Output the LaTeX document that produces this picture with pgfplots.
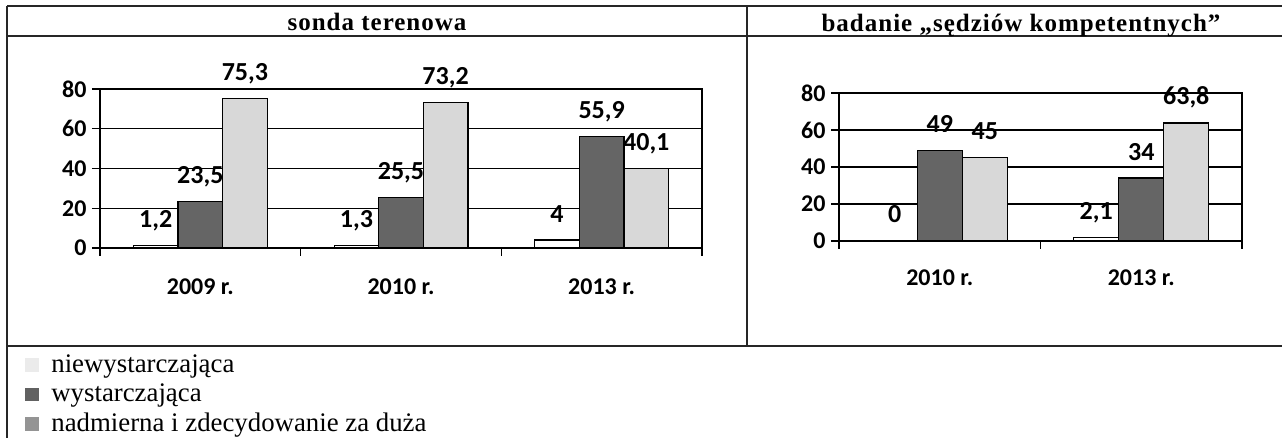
\documentclass[border=0pt]{standalone}
\usepackage{pgfplots}
\pgfplotsset{compat=1.18}
\usepackage{fontspec}
\setmainfont{Liberation Serif}
\newfontfamily\carlito{Carlito}
\newfontfamily\hdr{Liberation Serif}[LetterSpace=4]

\definecolor{darkbar}{HTML}{656565}
\definecolor{lightbar}{HTML}{D8D8D8}

\pgfplotsset{
  chartbase/.style={
    scale only axis, ybar=0pt,
    ymin=0, ymax=80, ytick={0,20,...,80},
    enlargelimits=false,
    axis line style={line width=1.3pt, black},
    ymajorgrids, major grid style={line width=1.3pt, black},
    tick style={line width=1.3pt, black},
    tick align=outside, major tick length=8pt,
    xtick pos=bottom, ytick pos=left,
    x tick label as interval,
    ticklabel style={font=\carlito\bfseries\fontsize{24}{28}\selectfont},
    /pgf/number format/assume math mode=true,
    /pgf/number format/use comma,
    yticklabel style={xshift=-2pt},
    nodes near coords,
    nodes near coords style={font=\carlito\bfseries\fontsize{26}{28}\selectfont,
      text=black, anchor=base, yshift=18pt, inner sep=0pt},
  },
  sq/.style={legend image code/.code={\fill[#1] (0pt,-5pt) rectangle (13pt,7pt);}},
}

\begin{document}
\begin{tikzpicture}
\useasboundingbox (0pt,0pt) rectangle (1282pt,438pt);

% table frame
\begin{scope}[line width=1.3pt, black!85]
  \draw (7pt,432pt) -- (1282pt,432pt);
  \draw (7pt,402pt) -- (1282pt,402pt);
  \draw (7pt,92pt) -- (1282pt,92pt);
  \draw (7pt,432pt) -- (7pt,0pt);
  \draw (747pt,432pt) -- (747pt,92pt);
\end{scope}
\node[anchor=base, font=\hdr\bfseries\fontsize{25}{28}\selectfont] at (377pt,407pt) {sonda terenowa};
\node[anchor=base, font=\hdr\bfseries\fontsize{25}{28}\selectfont] at (1021pt,406pt) {badanie „sędziów kompetentnych”};

% sonda terenowa
\begin{axis}[chartbase,
  at={(100pt,190pt)}, anchor=south west,
  width=602pt, height=159pt,
  bar width=44.6pt,
  xmin=-0.5, xmax=2.5,
  xtick={-0.5,0.5,1.5,2.5},
  xticklabels={2009 r.,2010 r.,2013 r.},
  xticklabel style={yshift=-19pt},
  legend style={at={(axis description cs:-0.1246,-0.655)}, anchor=north west,
    draw=none, fill=none, inner sep=0pt, row sep=2pt,
    font=\fontsize{26.8}{28}\selectfont,
    nodes={text height=18pt, text depth=6pt, inner ysep=1.75pt, inner xsep=0pt},
    /tikz/every odd column/.append style={column sep=12pt}},
  legend cell align=left,
]
\addplot[fill=white, draw=black, line width=1.2pt, sq={black!8}]
  coordinates {(0,1.2) (1,1.3) (2,4)};
\addplot[fill=darkbar, draw=black, line width=1.2pt, sq={black!62}]
  coordinates {(0,23.5) (1,25.5) (2,55.9)};
\addplot[fill=lightbar, draw=black, line width=1.2pt, sq={black!42}]
  coordinates {(0,75.3) (1,73.2) (2,40.1)};
\legend{niewystarczająca, wystarczająca, nadmierna i zdecydowanie za duża}
\end{axis}

% badanie sedziow kompetentnych
\begin{axis}[chartbase,
  at={(839pt,197pt)}, anchor=south west,
  width=403pt, height=148pt,
  bar width=45pt,
  xmin=-0.5, xmax=1.5,
  xtick={-0.5,0.5,1.5},
  xticklabels={2010 r.,2013 r.},
  xticklabel style={yshift=-17pt},
]
\addplot[fill=white, draw=black, line width=1.2pt]
  coordinates {(0,0) (1,2.1)};
\addplot[fill=darkbar, draw=black, line width=1.2pt]
  coordinates {(0,49) (1,34)};
\addplot[fill=lightbar, draw=black, line width=1.2pt]
  coordinates {(0,45) (1,63.8)};
\end{axis}
\end{tikzpicture}
\end{document}
